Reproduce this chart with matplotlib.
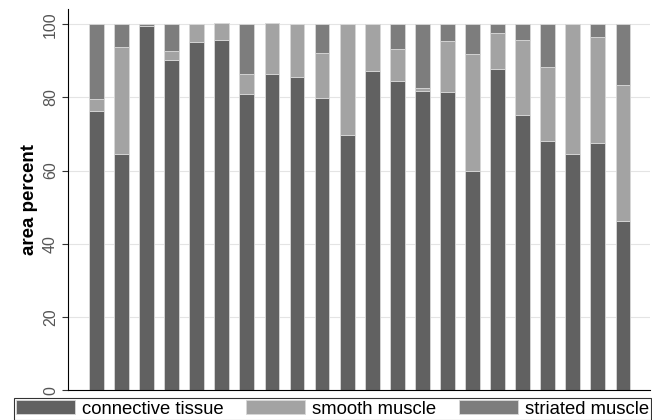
import matplotlib.pyplot as plt
import numpy as np

plt.rcParams['font.family'] = ['Liberation Sans', 'DejaVu Sans']

# ─── DATA ─────────────────────────────────────────────────────────────────────
connective = [76.2, 64.6, 99.5, 90.3, 95.2, 95.8, 81.0, 86.5, 85.7, 79.9, 69.6,
              87.3, 84.4, 81.7, 81.6, 60.0, 87.7, 75.3, 68.2, 64.6, 67.6, 46.1]
smooth     = [3.3, 29.2, 0.0, 2.4, 4.8, 4.4, 5.5, 13.7, 14.3, 12.1, 30.4,
              12.7, 8.8, 0.8, 13.8, 31.8, 10.0, 20.5, 20.1, 35.4, 28.9, 37.2]
striated   = [20.5, 6.2, 0.5, 7.3, 0.0, 0.0, 13.5, 0.0, 0.0, 8.0, 0.0,
              0.0, 6.8, 17.5, 4.6, 8.2, 2.3, 4.2, 11.7, 0.0, 3.5, 16.7]
labels = ["connective tissue", "smooth muscle", "striated muscle"]
colors = ["#616161", "#a3a3a3", "#7d7d7d"]

# ─── PLOT ─────────────────────────────────────────────────────────────────────
fig = plt.figure(figsize=(6.52, 4.2), dpi=100)
ax = fig.add_axes([0.104, 0.071, 0.893, 0.908])

x = np.arange(len(connective))
bottom = np.zeros(len(x))
for vals, lab, col in zip([connective, smooth, striated], labels, colors):
    ax.bar(x, vals, width=0.59, bottom=bottom, color=col, edgecolor="#d8d8d8",
           linewidth=0.6, label=lab, zorder=2)
    bottom += np.array(vals)

ax.set_xlim(-1.14, 22.08)
ax.set_ylim(0, 104.2)
ax.set_xticks([])
ax.set_yticks([0, 20, 40, 60, 80, 100])
ax.tick_params(axis="y", labelrotation=90, labelsize=11.5, length=4, pad=3,
               colors="#333333", labelcolor="#555555")
for t in ax.get_yticklabels():
    t.set_va("center")
ax.grid(axis="y", color="#e4e4e4", linewidth=0.8, zorder=0)
ax.spines["top"].set_visible(False)
ax.spines["right"].set_visible(False)
ax.set_ylabel("area percent", fontsize=13.5, fontweight="bold", labelpad=4)

leg = fig.legend(loc="lower left", bbox_to_anchor=(0.021, 0.0, 0.978, 0.058),
                 mode="expand", ncol=3, fontsize=13.3, handlelength=3.2,
                 handleheight=0.8, handletextpad=0.4, borderpad=0.12,
                 borderaxespad=0.0, columnspacing=0.6, fancybox=False,
                 frameon=True, edgecolor="black")
leg.get_frame().set_linewidth(0.8)

fig.savefig("out.png", dpi=100)
